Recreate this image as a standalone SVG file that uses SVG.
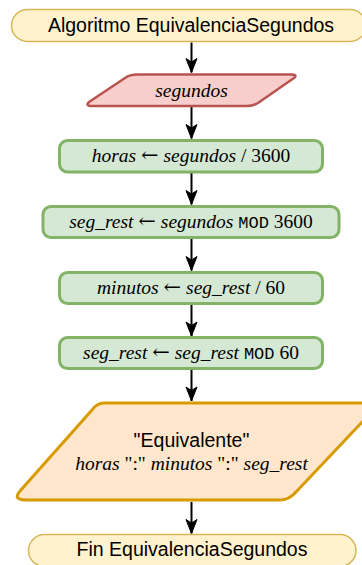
<svg xmlns="http://www.w3.org/2000/svg" width="362" height="565" viewBox="0 0 362 565">
<style>
.term{fill:#fff2cc;stroke:#d6b656;stroke-width:1.5}
.inp{fill:#f8cecc;stroke:#b85450;stroke-width:2.5;stroke-linejoin:round}
.proc{fill:#d5e8d4;stroke:#82b366;stroke-width:3}
.out{fill:#ffe6cc;stroke:#d79b00;stroke-width:3;stroke-linejoin:round}
.sans{font-family:"Liberation Sans",Arial,sans-serif;font-size:19.5px;fill:#000;text-anchor:middle}
.ser{font-family:"Liberation Serif","Times New Roman",serif;font-size:19.5px;fill:#000;text-anchor:middle}
.it{font-style:italic}
.ar{font-family:"DejaVu Serif",serif;font-size:21px;font-style:normal}
.mono{font-family:"Liberation Mono","DejaVu Sans Mono",monospace;font-size:17px;font-style:normal}
.edge{stroke:#000;stroke-width:2;fill:none}
</style>
<defs>
<marker id="arr" markerUnits="userSpaceOnUse" viewBox="-15 -7 16 14" markerWidth="16" markerHeight="14" refX="0" refY="0" orient="auto" overflow="visible">
<path d="M-14,-5.5 L0,0 L-14,5.5 L-10.5,0 Z" fill="#000" stroke="#000" stroke-width="1"/>
</marker>
</defs>
<g id="connectors">
<path class="edge" marker-end="url(#arr)" d="M191.5,42.5 V72.5"/>
<path class="edge" marker-end="url(#arr)" d="M191.5,106 V138.5"/>
<path class="edge" marker-end="url(#arr)" d="M191.5,173 V204.5"/>
<path class="edge" marker-end="url(#arr)" d="M191.5,239 V270.5"/>
<path class="edge" marker-end="url(#arr)" d="M191.5,305 V336"/>
<path class="edge" marker-end="url(#arr)" d="M191.5,370 V401"/>
<path class="edge" marker-end="url(#arr)" d="M191.5,502 V533.5"/>
</g>
<g id="start">
<rect class="term" x="11.5" y="9.5" width="354.5" height="32" rx="16" ry="16"/>
<text class="sans" x="191" y="32">Algoritmo EquivalenciaSegundos</text>
</g>
<g id="input">
<path class="inp" d="M137,74.5 H291 Q298,74.5 294,78 L258,103 Q253,106 246,106 H92 Q85,106 89,102 L125,78 Q130,74.5 137,74.5 Z"/>
<text class="ser it" x="191.5" y="97">segundos</text>
</g>
<g id="p1">
<rect class="proc" x="59.5" y="140.5" width="263" height="31.5" rx="8" ry="8"/>
<text class="ser" x="191" y="162"><tspan class="it">horas</tspan> <tspan class="ar">←</tspan> <tspan class="it">segundos</tspan> / 3600</text>
</g>
<g id="p2">
<rect class="proc" x="43" y="206.5" width="296" height="31" rx="8" ry="8"/>
<text class="ser" x="191" y="227.5"><tspan class="it">seg_rest</tspan> <tspan class="ar">←</tspan> <tspan class="it">segundos</tspan> <tspan class="mono">MOD</tspan> 3600</text>
</g>
<g id="p3">
<rect class="proc" x="59.5" y="272.5" width="263" height="31" rx="8" ry="8"/>
<text class="ser" x="191" y="293.5"><tspan class="it">minutos</tspan> <tspan class="ar">←</tspan> <tspan class="it">seg_rest</tspan> / 60</text>
</g>
<g id="p4">
<rect class="proc" x="59.5" y="337.5" width="263" height="31" rx="8" ry="8"/>
<text class="ser" x="191" y="359"><tspan class="it">seg_rest</tspan> <tspan class="ar">←</tspan> <tspan class="it">seg_rest</tspan> <tspan class="mono">MOD</tspan> 60</text>
</g>
<g id="output">
<path class="out" d="M104,403 H380 L296,492 Q289,500 280,500 H27 Q12,500 20,491 L92,410 Q97,403 104,403 Z"/>
<text class="sans" x="191.5" y="447">"Equivalente"</text>
<text class="ser" x="191.5" y="470"><tspan class="it">horas</tspan> ":" <tspan class="it">minutos</tspan> ":" <tspan class="it">seg_rest</tspan></text>
</g>
<g id="end">
<rect class="term" x="28.5" y="534.5" width="327.5" height="32" rx="16" ry="16"/>
<text class="sans" x="192" y="556">Fin EquivalenciaSegundos</text>
</g>
</svg>
